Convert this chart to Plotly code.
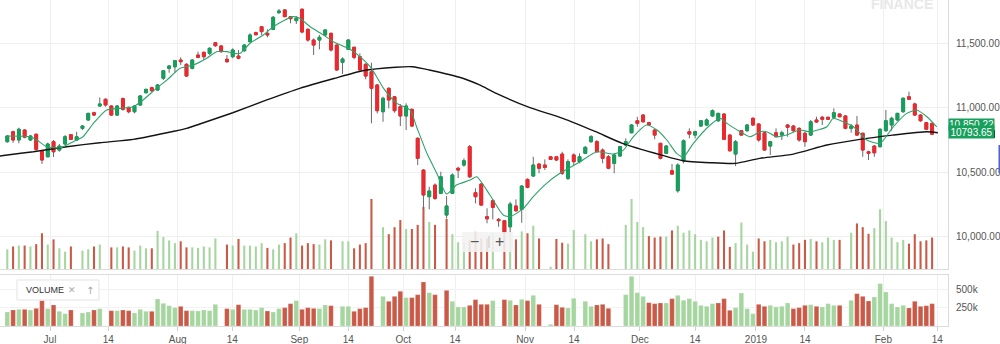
import plotly.graph_objects as go

# ---------------- data ----------------
open_ = [10736, 10813, 10749, 10826, 10749, 10793, 10666, 10619, 10736, 10671,
         10718, 10790, 10749, 10839, 10904, 10960, 11012, 11064, 11012, 10942,
         11069, 11002, 10968, 11020, 11115, 11154, 11136, 11227, 11304, 11316,
         11368, 11335, 11304, 11407, 11428, 11420, 11502, 11477, 11374, 11394,
         11399, 11440, 11510, 11580, 11626, 11575, 11606, 11735, 11756, 11704,
         11673, 11761, 11606, 11523, 11523, 11562, 11575, 11484, 11350, 11451,
         11467, 11394, 11335, 11278, 11175, 10968, 11149, 11084, 11007, 10935,
         10986, 10762, 10516, 10310, 10400, 10336, 10168, 10336, 10530, 10555,
         10697, 10341, 10408, 10155, 10279, 10134, 10124, 10077, 10238, 10212,
         10444, 10470, 10563, 10555, 10619, 10619, 10640, 10452, 10633, 10581,
         10646, 10736, 10736, 10671, 10619, 10568, 10625, 10710, 10805, 10898,
         10942, 10883, 10826, 10723, 10646, 10511, 10356, 10588, 10813, 10787,
         10857, 10865, 10935, 10898, 10950, 10787, 10640, 10821, 10821, 10917,
         10873, 10805, 10702, 10805, 10787, 10865, 10857, 10839, 10801, 10787,
         10904, 10925, 10925, 10925, 10950, 10935, 10839, 10865, 10801, 10658,
         10702, 10697, 10821, 10865, 10904, 10968, 11084, 11028, 10942, 10883, 10878]
high = [10787, 10821, 10844, 10832, 10787, 10801, 10671, 10728, 10749, 10718,
        10787, 10795, 10813, 10865, 10960, 10968, 11079, 11072, 11020, 11020,
        11079, 11007, 11020, 11097, 11146, 11162, 11182, 11291, 11330, 11368,
        11389, 11343, 11374, 11433, 11433, 11467, 11508, 11484, 11407, 11459,
        11446, 11492, 11575, 11588, 11632, 11606, 11709, 11763, 11761, 11709,
        11709, 11769, 11614, 11536, 11562, 11606, 11580, 11492, 11389, 11531,
        11471, 11420, 11343, 11347, 11182, 11084, 11157, 11090, 11028, 11033,
        10994, 10770, 10524, 10387, 10413, 10503, 10315, 10491, 10542, 10607,
        10710, 10375, 10418, 10220, 10289, 10145, 10129, 10271, 10289, 10400,
        10452, 10619, 10568, 10599, 10625, 10625, 10658, 10599, 10646, 10646,
        10702, 10787, 10749, 10684, 10633, 10646, 10702, 10762, 10873, 10929,
        10950, 10890, 10832, 10728, 10710, 10563, 10568, 10754, 10839, 10821,
        10904, 10917, 10986, 10960, 10955, 10793, 10749, 10826, 10873, 10925,
        10878, 10813, 10743, 10839, 10821, 10873, 10865, 10847, 10813, 10904,
        10929, 10935, 10929, 10994, 10955, 10942, 10873, 10935, 10805, 10666,
        10710, 10839, 10981, 10929, 10960, 11079, 11123, 11038, 10950, 10890, 10883]
low = [10728, 10728, 10723, 10762, 10743, 10666, 10563, 10615, 10617, 10658,
       10710, 10749, 10743, 10826, 10898, 10935, 11007, 11007, 10935, 10935,
       10976, 10955, 10955, 11012, 11110, 11123, 11130, 11213, 11270, 11270,
       11330, 11239, 11296, 11382, 11368, 11407, 11471, 11425, 11347, 11382,
       11374, 11433, 11502, 11560, 11562, 11544, 11601, 11725, 11699, 11653,
       11647, 11575, 11510, 11407, 11451, 11554, 11433, 11285, 11260, 11446,
       11374, 11285, 11219, 10878, 10955, 10890, 10994, 10960, 10857, 10826,
       10852, 10555, 10212, 10212, 10284, 10331, 10142, 10331, 10454, 10542,
       10454, 10258, 10238, 10104, 10134, 10077, 10026, 10031, 10193, 10108,
       10375, 10462, 10491, 10516, 10594, 10586, 10478, 10439, 10555, 10568,
       10640, 10728, 10650, 10568, 10522, 10491, 10619, 10702, 10801, 10852,
       10883, 10857, 10754, 10599, 10640, 10478, 10341, 10568, 10762, 10762,
       10852, 10857, 10929, 10890, 10749, 10658, 10547, 10780, 10813, 10857,
       10736, 10666, 10633, 10770, 10749, 10774, 10813, 10736, 10697, 10780,
       10883, 10865, 10904, 10909, 10925, 10832, 10805, 10780, 10619, 10594,
       10619, 10692, 10813, 10821, 10898, 10960, 11059, 10935, 10890, 10826, 10787]
close = [10780, 10749, 10832, 10770, 10780, 10677, 10594, 10718, 10658, 10702,
         10774, 10754, 10774, 10857, 10955, 10942, 11028, 11020, 10942, 11012,
         10986, 10968, 11012, 11090, 11141, 11130, 11175, 11285, 11322, 11363,
         11355, 11244, 11368, 11389, 11394, 11459, 11479, 11433, 11355, 11446,
         11382, 11484, 11562, 11564, 11588, 11562, 11699, 11748, 11704, 11688,
         11691, 11585, 11523, 11484, 11544, 11601, 11446, 11291, 11376, 11523,
         11389, 11291, 11244, 11149, 10976, 11072, 11059, 10976, 10935, 11012,
         10857, 10607, 10323, 10354, 10297, 10464, 10238, 10478, 10516, 10588,
         10464, 10310, 10245, 10139, 10227, 10124, 10031, 10253, 10201, 10392,
         10382, 10555, 10530, 10537, 10599, 10594, 10491, 10581, 10581, 10619,
         10692, 10774, 10658, 10607, 10530, 10633, 10697, 10736, 10865, 10878,
         10890, 10867, 10787, 10607, 10702, 10485, 10555, 10743, 10795, 10813,
         10898, 10904, 10976, 10955, 10754, 10666, 10736, 10787, 10865, 10865,
         10749, 10671, 10736, 10774, 10805, 10847, 10821, 10749, 10736, 10890,
         10888, 10909, 10909, 10960, 10929, 10839, 10857, 10787, 10671, 10646,
         10650, 10832, 10898, 10917, 10955, 11072, 11064, 10942, 10898, 10832, 10793.65]
volume = [194000, 222000, 231000, 231000, 222000, 245000, 352000, 241000, 292000, 204000,
          171000, 222000, 0, 181000, 194000, 222000, 241000, 0, 213000, 213000,
          222000, 213000, 181000, 231000, 204000, 204000, 375000, 315000, 282000, 255000,
          273000, 213000, 213000, 208000, 222000, 213000, 301000, 0, 241000, 231000,
          296000, 231000, 231000, 222000, 255000, 208000, 194000, 241000, 255000, 310000,
          352000, 231000, 255000, 245000, 241000, 292000, 282000, 0, 273000, 273000,
          204000, 241000, 255000, 690000, 0, 412000, 343000, 412000, 482000, 394000,
          394000, 435000, 611000, 463000, 435000, 0, 495000, 343000, 264000, 264000,
          287000, 366000, 301000, 301000, 352000, 0, 366000, 357000, 292000, 370000,
          352000, 426000, 301000, 0, 23000, 296000, 259000, 250000, 384000, 0,
          343000, 273000, 292000, 301000, 245000, 0, 0, 435000, 690000, 463000,
          412000, 324000, 310000, 319000, 319000, 380000, 426000, 357000, 380000, 343000,
          287000, 273000, 310000, 319000, 380000, 218000, 255000, 458000, 241000, 171000,
          301000, 273000, 287000, 264000, 273000, 319000, 241000, 255000, 287000, 296000,
          273000, 264000, 310000, 287000, 287000, 0, 357000, 449000, 412000, 347000,
          403000, 588000, 472000, 310000, 264000, 287000, 250000, 343000, 273000, 282000, 310000]

# short moving average (green) at session positions
ma_fast_at = [-0.1, 3.9, 5.1, 6.8, 9.1, 11.4, 13.1, 14.9, 17.2, 19.5, 21.8, 23.5, 25.8, 27.6,
              29.9, 32.2, 34.5, 36.2, 38.0, 39.1, 40.3, 42.0, 44.3, 46.0, 47.8, 49.5, 50.6,
              52.4, 54.7, 56.4, 59.3, 61.0, 63.0, 65.1, 67.4, 69.7, 70.8, 72.6, 74.3, 76.0,
              77.7, 80.1, 81.2, 83.5, 85.8, 87.0, 89.3, 91.0, 93.3, 95.6, 99.1, 102.0, 104.9,
              106.6, 108.3, 110.6, 112.4, 114.1, 115.8, 117.0, 118.7, 121.6, 123.3, 124.5,
              126.8, 128.5, 130.2, 131.4, 133.1, 134.8, 137.1, 138.9, 141.8, 142.9, 144.6,
              146.4, 148.7, 151.0, 153.3, 155.6, 157.3, 159.1, 160.8]
ma_fast = [10780, 10774, 10749, 10697, 10689, 10736, 10774, 10878, 10981, 10994, 11007, 11059,
           11149, 11213, 11304, 11330, 11382, 11433, 11433, 11420, 11420, 11498, 11562, 11626,
           11673, 11704, 11691, 11626, 11562, 11510, 11451, 11394, 11304, 11149, 11033, 10981,
           10852, 10646, 10491, 10331, 10400, 10439, 10464, 10323, 10168, 10155, 10220, 10310,
           10413, 10491, 10581, 10658, 10640, 10671, 10774, 10865, 10826, 10749, 10646, 10619,
           10723, 10865, 10917, 10878, 10813, 10774, 10813, 10813, 10774, 10787, 10826, 10813,
           10852, 10917, 10890, 10852, 10749, 10723, 10852, 10955, 10981, 10929, 10850.22]

# long moving average (black)
ma_slow_at = [-1.3, 0, 4.5, 10.3, 16, 21.8, 27.6, 31, 33.3, 39, 44.9, 50.6, 56.5, 61.5, 67.2,
              70.1, 73, 78.8, 81.7, 84.6, 90.3, 96.1, 101.8, 106.4, 113.2, 116.9, 121.6, 126,
              130.2, 136, 141.8, 147.5, 153.2, 159.1, 161]
ma_slow = [10625, 10633, 10658, 10697, 10728, 10754, 10805, 10839, 10873, 10960, 11059, 11149,
           11225, 11285, 11312, 11316, 11291, 11227, 11175, 11110, 11002, 10917, 10813, 10723,
           10632, 10588, 10573, 10568, 10607, 10640, 10710, 10754, 10787, 10813, 10805]

tick_at = [7.39, 17.47, 29.48, 38.93, 50.52, 59.0, 68.51, 77.46, 89.57, 98.05,
           109.46, 118.98, 129.53, 138.0, 151.56, 160.9]
tick_text = ["Jul", "14", "Aug", "14", "Sep", "14", "Oct", "14", "Nov", "14",
             "Dec", "14", "2019", "14", "Feb", "14"]
price_ticks = [10000, 10500, 11000, 11500]
volume_ticks = [250000, 500000]
volume_tick_text = ["250k", "500k"]

# ---------------- styling ----------------
UP = "#13a05b"
DN = "#f0272d"
WICK = "#6a6a6a"
VUP = "#a6d6a0"
VDN = "#c95a47"

n = len(close)
session = list(range(n))
vol_colors = [VUP if i == 0 or close[i] >= close[i - 1] else VDN for i in range(n)]
body_hi = [max(o, c) for o, c in zip(open_, close)]
body_lo = [min(o, c) for o, c in zip(open_, close)]

fig = go.Figure()

# volume overlay inside the price pane (base axis y, drawn beneath candles)
fig.add_trace(go.Bar(x=session, y=volume, width=0.36, xaxis="x", yaxis="y",
                     marker=dict(color=vol_colors, line=dict(width=0)),
                     hoverinfo="skip"))

# wicks (grey)
fig.add_trace(go.Candlestick(
    x=session, open=open_, high=high, low=low, close=close,
    xaxis="x", yaxis="y3", whiskerwidth=0,
    increasing=dict(line=dict(color=WICK, width=1), fillcolor=WICK),
    decreasing=dict(line=dict(color=WICK, width=1), fillcolor=WICK),
    hoverinfo="skip"))
# bodies (coloured)
fig.add_trace(go.Candlestick(
    x=session, open=open_, high=body_hi, low=body_lo, close=close,
    xaxis="x", yaxis="y3", whiskerwidth=0,
    increasing=dict(line=dict(color=UP, width=1), fillcolor=UP),
    decreasing=dict(line=dict(color=DN, width=1), fillcolor=DN)))

fig.add_trace(go.Scatter(x=ma_slow_at, y=ma_slow, mode="lines", xaxis="x", yaxis="y3",
                         line=dict(color="#141414", width=1.4, shape="spline", smoothing=0.6)))
fig.add_trace(go.Scatter(x=ma_fast_at, y=ma_fast, mode="lines", xaxis="x", yaxis="y3",
                         line=dict(color="#2ea46a", width=1.1, shape="spline", smoothing=0.6)))

# lower volume pane
fig.add_trace(go.Bar(x=session, y=volume, width=0.8, xaxis="x2", yaxis="y2",
                     marker=dict(color=vol_colors,
                                 line=dict(color="rgba(255,255,255,0.35)", width=0.6))))

GRID = "#efefef"
LINE = "#dcdcdc"
FONT = "Liberation Sans, Arial, Helvetica, sans-serif"

fig.update_layout(
    width=1000, height=344,
    margin=dict(l=0, r=52, t=0, b=18),
    paper_bgcolor="white", plot_bgcolor="white",
    showlegend=False, barmode="overlay", boxmode="overlay",
    font=dict(family=FONT, size=10, color="#555555"),
    xaxis=dict(domain=[0, 1], range=[-1.263, 162.75], anchor="y",
               tickvals=tick_at, showticklabels=False, ticks="",
               showgrid=True, gridcolor=GRID, zeroline=False,
               showline=True, linecolor=LINE,
               rangeslider=dict(visible=False), fixedrange=True),
    yaxis=dict(domain=[0.1748, 1], range=[0, 2650000], visible=False, fixedrange=True),
    yaxis3=dict(overlaying="y", anchor="x", side="right", range=[9750, 11833],
                tickvals=price_ticks, tickformat=",.2f", ticks="",
                ticklabelstandoff=5, showgrid=True, gridcolor=GRID,
                zeroline=False, showline=True, linecolor=LINE,
                tickfont=dict(size=10, color="#555555", family=FONT)),
    xaxis2=dict(domain=[0, 1], anchor="y2", matches="x",
                tickvals=tick_at, ticktext=tick_text,
                ticks="outside", ticklen=4, tickcolor="#cfcfcf",
                showgrid=True, gridcolor=GRID, zeroline=False,
                showline=True, linecolor=LINE, mirror=True,
                tickfont=dict(size=10, color="#555555", family=FONT)),
    yaxis2=dict(domain=[0, 0.1564], anchor="x2", side="right", range=[0, 708000],
                tickvals=volume_ticks, ticktext=volume_tick_text, ticks="",
                ticklabelstandoff=5, showgrid=True, gridcolor="#f2f2f2",
                zeroline=False, showline=True, linecolor=LINE,
                tickfont=dict(size=10, color="#555555", family=FONT)),
)

shapes = [
    # VOLUME legend chip
    dict(type="rect", xref="paper", yref="paper", x0=0.0179, x1=0.1044, y0=0.0798, y1=0.1411,
         fillcolor="white", line=dict(color="#e3e3e3", width=1), layer="above"),
    # zoom control
    dict(type="rect", xref="paper", yref="paper", x0=0.4873, x1=0.5411, y0=0.227, y1=0.2883,
         fillcolor="rgba(243,243,243,0.88)", line=dict(width=0), layer="above"),
    dict(type="line", xref="paper", yref="paper", x0=0.5158, x1=0.5158, y0=0.2393, y1=0.2761,
         line=dict(color="#c8c8c8", width=1), layer="above"),
    # small marker and scroll handle on the far right
    dict(type="rect", xref="paper", yref="paper", x0=1.0464, x1=1.0496, y0=0.5767, y1=0.6012,
         fillcolor="#111111", line=dict(width=0)),
    dict(type="line", xref="paper", yref="paper", x0=1.0543, x1=1.0543, y0=0.4693, y1=0.5552,
         line=dict(color="#5263cf", width=2)),
]
fig.update_layout(shapes=shapes)

annotations = [
    dict(text="<b>FINANCE</b>", xref="paper", yref="paper", x=0.9515, y=0.9877,
         xanchor="center", yanchor="middle", showarrow=False,
         font=dict(size=14, color="#e8e8e8", family=FONT)),
    dict(text="VOLUME", xref="paper", yref="paper", x=0.0253, y=0.1104,
         xanchor="left", yanchor="middle", showarrow=False,
         font=dict(size=9, color="#333333", family=FONT)),
    dict(text="✕", xref="paper", yref="paper", x=0.0759, y=0.1104,
         xanchor="center", yanchor="middle", showarrow=False,
         font=dict(size=9, color="#a8a8a8", family="DejaVu Sans")),
    dict(text="↑", xref="paper", yref="paper", x=0.0949, y=0.1104,
         xanchor="center", yanchor="middle", showarrow=False,
         font=dict(size=10, color="#a8a8a8", family="DejaVu Sans")),
    dict(text="−", xref="paper", yref="paper", x=0.5, y=0.2577,
         xanchor="center", yanchor="middle", showarrow=False,
         font=dict(size=16, color="#555555", family=FONT)),
    dict(text="+", xref="paper", yref="paper", x=0.5274, y=0.2577,
         xanchor="center", yanchor="middle", showarrow=False,
         font=dict(size=16, color="#555555", family=FONT)),
    dict(text="10,850.22", xref="paper", yref="y3", x=1.0, y=ma_fast[-1], yshift=2,
         xanchor="left", yanchor="middle", showarrow=False, width=45, height=11,
         bgcolor="#17a05c", borderpad=0,
         font=dict(size=10, color="white", family=FONT)),
    dict(text="10793.65", xref="paper", yref="y3", x=1.0, y=close[-1], yshift=2,
         xanchor="left", yanchor="middle", showarrow=False, width=45, height=12,
         bgcolor="#17a05c", borderpad=0,
         font=dict(size=10, color="white", family=FONT)),
]
fig.update_layout(annotations=annotations)

fig.write_html("out.html")
